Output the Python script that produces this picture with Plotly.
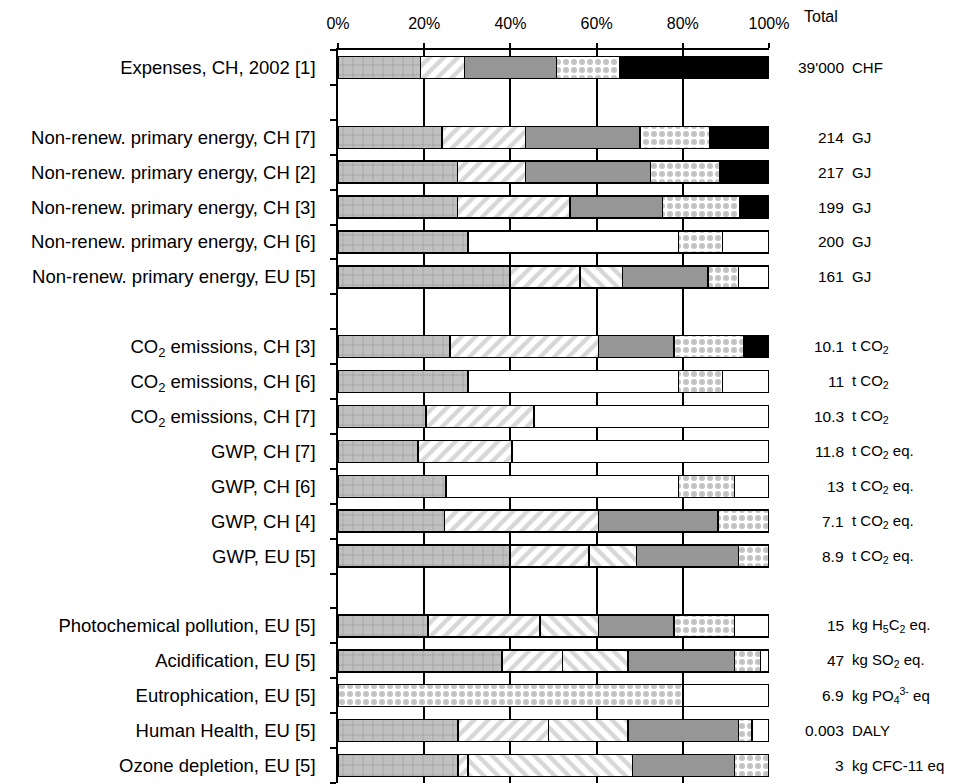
import plotly.graph_objects as go

# ---------------- data ----------------
labels = [
    "Expenses, CH, 2002 [1]", "",
    "Non-renew. primary energy, CH [7]", "Non-renew. primary energy, CH [2]",
    "Non-renew. primary energy, CH [3]", "Non-renew. primary energy, CH [6]",
    "Non-renew. primary energy, EU [5]", "",
    "CO<sub>2</sub> emissions, CH [3]", "CO<sub>2</sub> emissions, CH [6]",
    "CO<sub>2</sub> emissions, CH [7]", "GWP, CH [7]", "GWP, CH [6]",
    "GWP, CH [4]", "GWP, EU [5]", "",
    "Photochemical pollution, EU [5]", "Acidification, EU [5]",
    "Eutrophication, EU [5]", "Human Health, EU [5]", "Ozone depletion, EU [5]",
]

seg_brick = [19.1, None, 24.1, 27.7, 27.7, 30.2, 39.9, None, 26.0, 30.2, 20.4,
             18.6, 25.1, 24.7, 39.9, None, 20.9, 38.1, None, 27.8, 27.8]
seg_slash = [10.2, None, 19.4, 15.8, 26.1, None, 16.3, None, 34.4, None, 25.1,
             21.8, None, 35.7, 18.3, None, 26.0, 14.0, None, 21.0, 2.4]
seg_backslash = [None, None, None, None, None, None, 9.8, None, None, None, None,
                 None, None, None, 11.0, None, 13.5, 15.2, None, 18.5, 38.1]
seg_unassigned = [None, None, None, None, None, 48.8, None, None, None, 48.8, None,
                  None, 53.9, None, None, None, None, None, None, None, None]
seg_gray = [21.4, None, 26.6, 29.0, 21.5, None, 19.9, None, 17.6, None, None,
            None, None, 27.8, 23.7, None, 17.6, 24.7, None, 25.6, 23.7]
seg_dots = [14.7, None, 16.2, 16.1, 18.0, 10.2, 7.0, None, 16.2, 10.2, None,
            None, 13.0, 11.8, 7.1, None, 14.0, 6.0, 80.0, 3.2, 8.0]
seg_black = [34.6, None, 13.7, 11.4, 6.7, None, None, None, 5.8, None, None,
             None, None, None, None, None, None, None, None, None, None]

totals = ["39'000", "", "214", "217", "199", "200", "161", "",
          "10.1", "11", "10.3", "11.8", "13", "7.1", "8.9", "",
          "15", "47", "6.9", "0.003", "3"]
units = ["CHF", "", "GJ", "GJ", "GJ", "GJ", "GJ", "",
         "t CO<sub>2</sub>", "t CO<sub>2</sub>", "t CO<sub>2</sub>",
         "t CO<sub>2</sub> eq.", "t CO<sub>2</sub> eq.", "t CO<sub>2</sub> eq.",
         "t CO<sub>2</sub> eq.", "",
         "kg H<sub>5</sub>C<sub>2</sub> eq.", "kg SO<sub>2</sub> eq.",
         "kg PO<sub>4</sub><sup>3-</sup> eq", "DALY", "kg CFC-11 eq"]

x_ticks = [0, 20, 40, 60, 80, 100]
x_ticktext = ["0%", "20%", "40%", "60%", "80%", "100%"]

# ---------------- build ----------------
cats = [f"row{i}" for i in range(len(labels))]
blank = [lab == "" for lab in labels]

series = [seg_brick, seg_slash, seg_backslash, seg_unassigned, seg_gray, seg_dots, seg_black]
remainder = []
for i in range(len(labels)):
    if blank[i]:
        remainder.append(None)
        continue
    s = sum(ser[i] for ser in series if ser[i] is not None)
    r = round(100 - s, 1)
    remainder.append(r if r > 0.05 else None)

styles = [
    dict(name="brick", color="#c0c0c0",
         pattern=dict(shape="+", fgcolor="#777777", size=10, solidity=0.14, fillmode="overlay")),
    dict(name="slash", color="#ffffff",
         pattern=dict(shape="/", fgcolor="#b0b0b0", size=10, solidity=0.45, fillmode="overlay")),
    dict(name="backslash", color="#ffffff",
         pattern=dict(shape="\\", fgcolor="#b0b0b0", size=10, solidity=0.45, fillmode="overlay")),
    dict(name="unassigned", color="#ffffff", pattern=None),
    dict(name="gray", color="#969696", pattern=None),
    dict(name="dots", color="#ffffff",
         pattern=dict(shape=".", fgcolor="#888888", size=8, solidity=0.45, fillmode="overlay")),
    dict(name="black", color="#000000", pattern=None),
    dict(name="rest", color="#ffffff", pattern=None),
]

fig = go.Figure()
for ser, st in zip(series + [remainder], styles):
    marker = dict(color=st["color"], line=dict(color="#000000", width=1.5))
    if st["pattern"] is not None:
        marker["pattern"] = st["pattern"]
    fig.add_trace(go.Bar(
        y=cats, x=ser, orientation="h", name=st["name"], marker=marker,
        showlegend=False, hoverinfo="skip",
    ))

# page body has an 8px margin: the figure is offset by (8, 8) on screen
OFF = 8
W, H = 953 - OFF, 784 - OFF
L, R, T, B = 338 - OFF, 769 - OFF, 50 - OFF, 783 - OFF
pw = R - L
ph = B - T

# right-side totals
fig.add_annotation(text="Total", xref="paper", yref="paper",
                   x=(802 - OFF - L) / pw, y=1 + (T - (17 - OFF)) / ph,
                   xanchor="left", yanchor="middle",
                   showarrow=False, font=dict(size=16, color="#000000"))
for c, tv, un in zip(cats, totals, units):
    if tv == "":
        continue
    fig.add_annotation(text=tv, xref="paper", yref="y", x=(846 - OFF - L) / pw, y=c,
                       xanchor="right", yanchor="middle", showarrow=False,
                       font=dict(size=15.5, color="#000000"))
    fig.add_annotation(text=un, xref="paper", yref="y", x=(850 - OFF - L) / pw, y=c,
                       xanchor="left", yanchor="middle", showarrow=False,
                       font=dict(size=15, color="#000000"))

fig.update_layout(
    width=W, height=H,
    margin=dict(l=L, r=W - R, t=T, b=H - B, autoexpand=False),
    barmode="stack", bargap=0.37,
    paper_bgcolor="#ffffff", plot_bgcolor="#ffffff",
    font=dict(family="Liberation Sans, Arial, sans-serif", color="#000000"),
    xaxis=dict(
        side="top", range=[0, 100], tickvals=x_ticks, ticktext=x_ticktext,
        showgrid=True, gridcolor="#000000", gridwidth=1.5,
        showline=True, linecolor="#000000", linewidth=1.5,
        ticks="outside", ticklen=5, tickcolor="#000000", tickwidth=1.5,
        tickfont=dict(size=16, color="#000000"), ticklabelstandoff=8,
        zeroline=False, fixedrange=True,
    ),
    yaxis=dict(
        type="category", categoryorder="array", categoryarray=cats,
        range=[len(cats) - 0.5, -0.5],
        tickvals=cats, ticktext=labels, tickson="boundaries",
        ticks="outside", ticklen=6, tickcolor="#000000", tickwidth=1.5,
        showline=True, linecolor="#000000", linewidth=1.5,
        showgrid=False, zeroline=False,
        tickfont=dict(size=18.5, color="#000000"), ticklabelstandoff=17,
    ),
    yaxis2=dict(
        overlaying="y", side="right", showline=True, linecolor="#9a9a9a", linewidth=2,
        showticklabels=False, ticks="", showgrid=False, zeroline=False,
        range=[0, 1],
    ),
)

fig.write_html("out.html")
